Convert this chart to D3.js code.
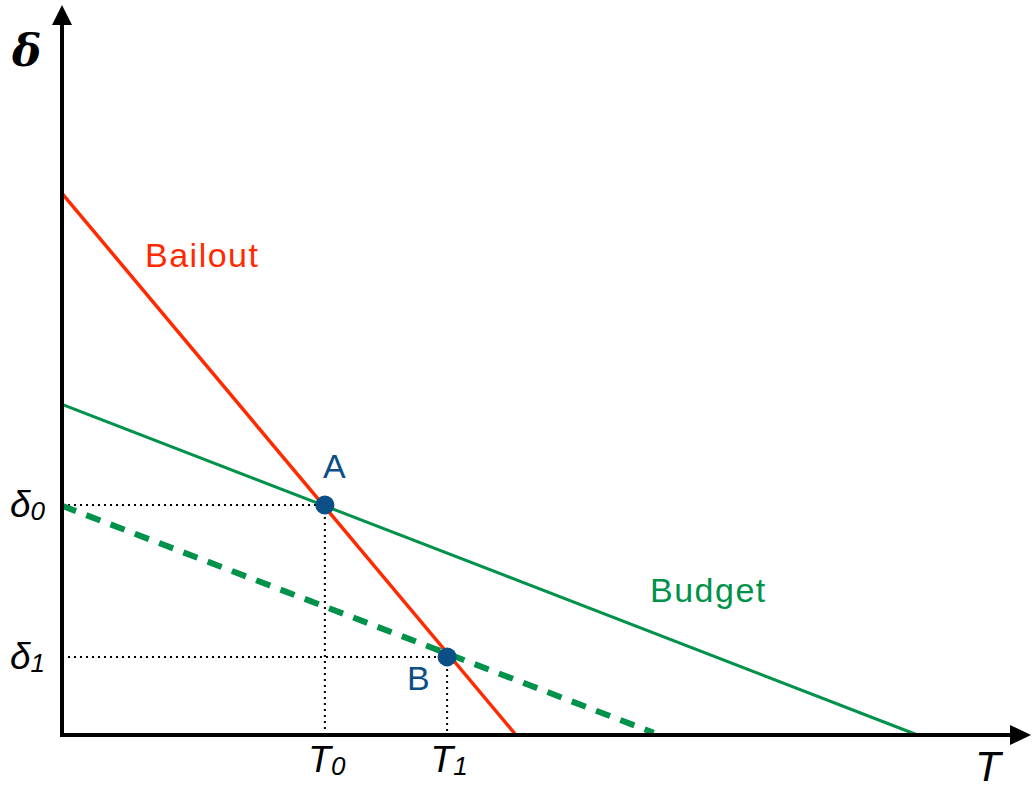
<!DOCTYPE html>
<html><head><meta charset="utf-8">
<script src="https://cdn.jsdelivr.net/npm/d3@7"></script>
<style>body{margin:0;background:#fff}</style>
</head><body>
<svg id="c" width="1033" height="789"></svg>
<script>
// abstract units (T horizontal, delta vertical), 0..1000
const bailout = [[0, 742], [468, 0]];
const budget = [[0, 453], [882, 0]];
const budgetNew = [[0, 314], [610, 3]];
const points = [{name: "A", T: 271, d: 315}, {name: "B", T: 397, d: 107}];
const tickLabelsX = ["T0", "T1"];
const tickLabelsY = ["δ0", "δ1"];

const svg = d3.select("#c");
const x = d3.scaleLinear().domain([0, 1000]).range([62, 1032]);
const y = d3.scaleLinear().domain([0, 1000]).range([735, 5]);
const line = d3.line().x(p => x(p[0])).y(p => y(p[1]));

const green = "#00924a", red = "#ff2a00", navy = "#0b4f86";

// dotted guides
points.forEach(p => {
  svg.append("line").attr("x1", x(0)).attr("x2", x(p.T)).attr("y1", y(p.d)).attr("y2", y(p.d))
    .attr("stroke", "#000").attr("stroke-width", 2).attr("stroke-dasharray", "2,4");
  svg.append("line").attr("x1", x(p.T)).attr("x2", x(p.T)).attr("y1", y(p.d)).attr("y2", y(0))
    .attr("stroke", "#000").attr("stroke-width", 2).attr("stroke-dasharray", "2,4");
});

svg.append("path").attr("d", line(budget)).attr("fill", "none").attr("stroke", green).attr("stroke-width", 3);
svg.append("path").attr("d", line(budgetNew)).attr("fill", "none").attr("stroke", green).attr("stroke-width", 6).attr("stroke-dasharray", "15,11");
svg.append("path").attr("d", line(bailout)).attr("fill", "none").attr("stroke", red).attr("stroke-width", 3.5);

// axes
svg.append("line").attr("x1", x(0)).attr("x2", x(0)).attr("y1", y(0) + 2).attr("y2", 22).attr("stroke", "#000").attr("stroke-width", 4);
svg.append("line").attr("x1", x(0) - 2).attr("x2", 1012).attr("y1", y(0)).attr("y2", y(0)).attr("stroke", "#000").attr("stroke-width", 4);
svg.append("path").attr("d", `M${x(0)},5 L${x(0)-10},25 L${x(0)+10},25 Z`).attr("fill", "#000");
svg.append("path").attr("d", `M1031,${y(0)} L1010,${y(0)-10} L1010,${y(0)+10} Z`).attr("fill", "#000");

// points
svg.selectAll("circle.pt").data(points).join("circle").attr("class", "pt")
  .attr("cx", p => x(p.T)).attr("cy", p => y(p.d)).attr("r", 9.5).attr("fill", navy);

const font = "Helvetica, 'Liberation Sans', Arial, sans-serif";
function label(txt, px, py, col) {
  svg.append("text").attr("x", px).attr("y", py).text(txt).attr("fill", col).attr("font-family", font)
    .attr("font-size", 34).attr("letter-spacing", 1.5);
}
label("Bailout", 145, 267, red);
label("Budget", 650, 602, green);
label("A", 323, 478, navy);
label("B", 407, 690, navy);

// tick labels with subscripts
function sublabel(str, px, py, anchor) {
  const t = svg.append("text").attr("x", px).attr("y", py).attr("font-family", font)
    .attr("font-style", "italic").attr("font-size", 37).attr("text-anchor", anchor);
  t.append("tspan").text(str[0]);
  t.append("tspan").text(str.slice(1)).attr("font-size", 26).attr("dy", 3);
}
points.forEach((p, i) => {
  sublabel(tickLabelsX[i], x(p.T) + 2, 772, "middle");
  sublabel(tickLabelsY[i], 45, y(p.d) + 12, "end");
});

svg.append("text").attr("x", 12).attr("y", 66).text("δ").attr("font-family", "'DejaVu Serif', 'Liberation Serif', serif")
  .attr("font-weight", "bold").attr("font-style", "italic").attr("font-size", 44);
svg.append("text").attr("x", 975).attr("y", 781).text("T").attr("font-family", font)
  .attr("font-style", "italic").attr("font-size", 42);
</script>
</body></html>
